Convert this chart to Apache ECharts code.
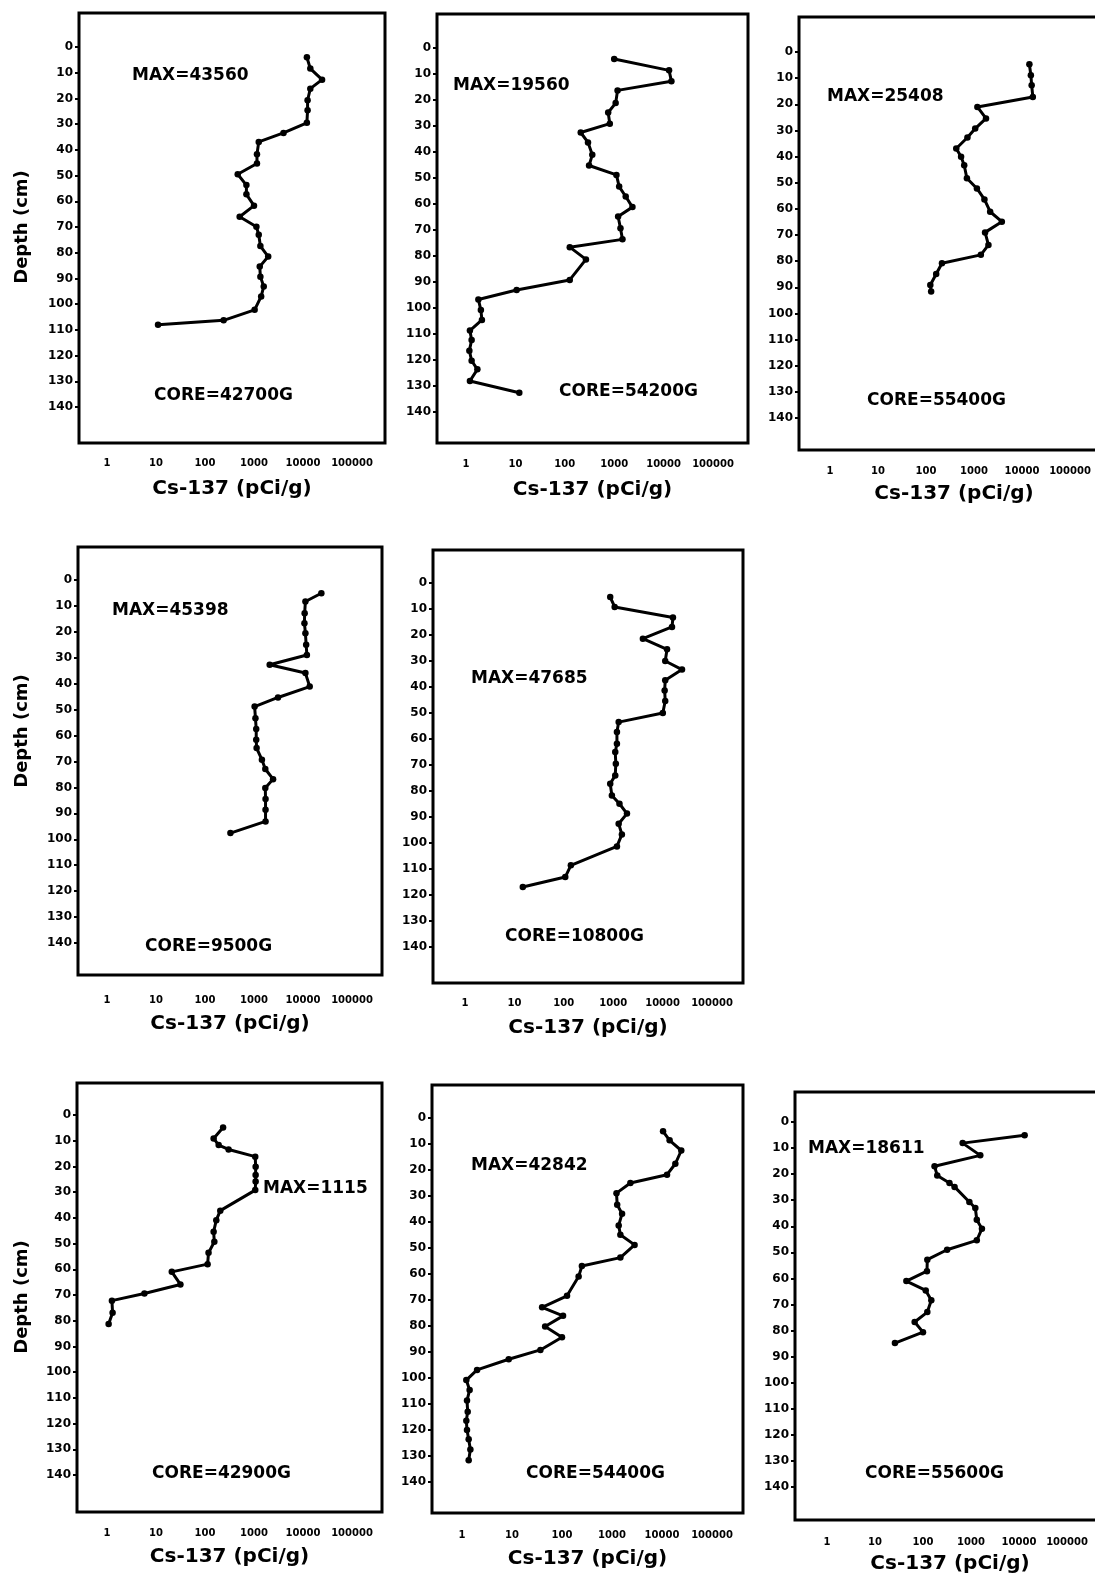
<!DOCTYPE html>
<html><head><meta charset="utf-8">
<script src="https://cdn.jsdelivr.net/npm/echarts@6/dist/echarts.min.js"></script>
<style>html,body{margin:0;padding:0;background:#fff}#c{width:1095px;height:1579px}</style>
</head><body><div id="c"></div>
<script>
// ---------- DATA ----------
const coreLabels = ['CORE=42700G','CORE=54200G','CORE=55400G','CORE=9500G','CORE=10800G','CORE=42900G','CORE=54400G','CORE=55600G'];
const maxLabels  = ['MAX=43560','MAX=19560','MAX=25408','MAX=45398','MAX=47685','MAX=1115','MAX=42842','MAX=18611'];
const xTickValues = [1, 10, 100, 1000, 10000, 100000];
const yTickValues = [0,10,20,30,40,50,60,70,80,90,100,110,120,130,140];
const xTitle = 'Cs-137 (pCi/g)';
const yTitle = 'Depth (cm)';

const depth42700 = [4,8.4,12.7,16.2,20.7,24.6,29.5,33.4,36.9,41.7,45.3,49.5,53.7,57.3,61.7,66,69.9,73,77.4,81.5,85.4,89.3,93.1,97,102.2,106.3,108];
const cs42700    = [12000,14100,24500,14100,12400,12400,12000,4000,1250,1150,1150,465,700,700,1000,510,1120,1250,1350,1950,1310,1350,1580,1400,1030,240,11];

const depth54200 = [4.2,8.6,12.8,16.3,21.2,24.8,29.1,32.5,36.3,41.1,45.2,48.8,53.3,57.1,61.2,64.8,69.3,73.6,76.6,81.3,89.2,93.1,96.7,100.8,104.6,108.7,112.3,116.4,120.3,123.6,128.1,132.6];
const cs54200    = [1000,12900,14400,1170,1070,755,815,210,295,360,310,1110,1260,1710,2340,1200,1340,1470,126,268,126,10.6,1.78,2.0,2.1,1.2,1.3,1.17,1.3,1.7,1.2,12];

const depth55400 = [4.7,8.9,12.7,17.2,21.0,25.4,29.3,32.7,36.9,40.1,43.3,48.3,52.2,56.4,61.1,64.9,69,73.8,77.6,80.8,84.9,89.1,91.6];
const cs55400    = [14250,15300,15900,16800,1175,1780,1060,730,427,538,625,711,1150,1650,2170,3800,1700,2000,1390,215,163,123,128];

const depth9500  = [5.1,8.3,12.8,16.7,20.5,25,28.9,32.7,35.9,41.1,45.3,48.8,53.3,57.5,61.6,64.8,69.3,72.9,76.8,80.2,84.5,88.6,93.1,97.6];
const cs9500     = [23700,11200,10800,10700,11200,11600,12000,2090,11200,13700,3090,1030,1070,1110,1110,1130,1450,1700,2450,1700,1720,1720,1720,330];

const depth10800 = [5.4,9.2,13.3,16.9,21.4,25.5,30,33.3,37.4,41.3,45.4,50,53.5,57.3,61.8,65,69.5,74,77.2,81.7,84.9,88.7,92.6,96.7,101.3,108.6,113.1,116.9];
const cs10800    = [870,1070,16200,15500,3990,12300,11300,24700,11300,11000,11300,10100,1290,1190,1190,1100,1130,1100,870,940,1340,1900,1290,1500,1190,139,107,14.8];

const depth42900 = [4.9,9.1,11.7,13.4,16.2,20.1,23.3,25.9,29.2,37.2,40.9,45.4,49.3,53.6,58,61,65.9,69.4,72.2,76.9,81.3];
const cs42900    = [234,150,190,303,1060,1080,1080,1080,1060,205,170,150,155,118,113,21,31.5,5.8,1.26,1.3,1.08];

const depth54400 = [5.1,8.6,12.5,17.6,21.8,25,28.9,33.4,36.8,41.3,44.9,48.8,53.7,56.9,61,68.4,72.8,76.1,80.2,84.3,89.2,92.8,96.9,100.8,104.6,108.7,113,116.4,120,123.6,127.5,131.6];
const cs54400    = [10500,14200,24300,18500,12600,2330,1230,1270,1590,1360,1470,2830,1470,250,215,126,40,105,46,100,37,8.6,2.0,1.22,1.42,1.26,1.3,1.22,1.26,1.36,1.47,1.36];

const depth55600 = [5.1,8.1,12.8,17,20.5,23.4,24.9,30.7,33,37.5,40.9,45.4,49,52.8,57.2,61,64.6,68.4,72.9,76.7,80.6,84.8];
const cs55600    = [13100,670,1560,174,198,356,455,925,1230,1320,1690,1320,318,123,121,45,114,149,123,67,100,26];

const depths = [depth42700, depth54200, depth55400, depth9500, depth10800, depth42900, depth54400, depth55600];
const values = [cs42700, cs54200, cs55400, cs9500, cs10800, cs42900, cs54400, cs55600];

// ---------- LAYOUT (pixels) ----------
const layout = [
  {L:79, T:13,  R:385,  B:443,  x1:107, x5:352,  y0:47,   y140:407,  lm:15, ng:36},
  {L:437,T:14,  R:748,  B:443,  x1:466, x5:713,  y0:48,   y140:412,  lm:16, ng:37},
  {L:799,T:17,  R:1109, B:450,  x1:830, x5:1070, y0:52,   y140:418,  lm:16, ng:34},
  {L:78, T:547, R:382,  B:975,  x1:107, x5:352,  y0:580,  y140:943,  lm:20, ng:39},
  {L:433,T:550, R:743,  B:983,  x1:465, x5:712,  y0:583,  y140:947,  lm:15, ng:35},
  {L:77, T:1083,R:382,  B:1512, x1:107, x5:352,  y0:1115, y140:1475, lm:16, ng:35},
  {L:432,T:1085,R:743,  B:1513, x1:462, x5:712,  y0:1118, y140:1482, lm:17, ng:36},
  {L:795,T:1092,R:1105, B:1520, x1:827, x5:1067, y0:1122, y140:1487, lm:17, ng:34}
];
const maxPos  = [[132,77],[453,87],[827,98],[112,612],[471,680],[263,1190],[471,1167],[808,1150]];
const corePos = [[154,397],[559,393],[867,402],[145,948],[505,938],[152,1475],[526,1475],[865,1475]];
const yTitlePos = [[22,227],[22,731],[22,1297]];

const FONT = 'DejaVu Sans';
const grids = [], xAxes = [], yAxes = [], series = [], graphics = [];

layout.forEach((b, i) => {
  const dec = (b.x5 - b.x1) / 5;
  const per = (b.y140 - b.y0) / 140;
  grids.push({left: b.L, top: b.T, right: 1095 - b.R, bottom: 1579 - b.B,
    outerBoundsMode: 'none', containLabel: false,
    show: true, borderColor: '#000', borderWidth: 3, backgroundColor: 'transparent'});
  xAxes.push({
    type: 'log', logBase: 10, gridIndex: i,
    min: Math.pow(10, (b.L - b.x1) / dec), max: Math.pow(10, (b.R - b.x1) / dec),
    axisLine: {show: false}, axisTick: {show: false}, splitLine: {show: false},
    axisLabel: {margin: b.lm, fontSize: 10, fontWeight: 'bold', color: '#000', fontFamily: FONT,
      showMinLabel: true, showMaxLabel: true, hideOverlap: false,
      formatter: v => {
        for (const t of xTickValues) { if (Math.abs(v - t) / t < 1e-6) return String(t); }
        return '';
      }},
    name: xTitle, nameLocation: 'middle', nameGap: b.ng,
    nameTextStyle: {fontSize: 20, fontWeight: 'bold', color: '#000', fontFamily: FONT}
  });
  yAxes.push({
    type: 'value', gridIndex: i, inverse: true,
    min: -(b.y0 - b.T) / per, max: 140 + (b.B - b.y140) / per,
    axisLine: {show: false}, splitLine: {show: false},
    axisTick: {show: true, length: 4, customValues: yTickValues, lineStyle: {color: '#000', width: 2}},
    axisLabel: {customValues: yTickValues, margin: 6, fontSize: 12, fontWeight: 'bold', color: '#000', fontFamily: FONT}
  });
  series.push({
    type: 'line', xAxisIndex: i, yAxisIndex: i,
    data: values[i].map((v, k) => [v, depths[i][k]]),
    symbol: 'circle', symbolSize: 6.5, showAllSymbol: true,
    lineStyle: {color: '#000', width: 3}, itemStyle: {color: '#000'},
    animation: false, silent: true
  });
  graphics.push({type: 'text', left: maxPos[i][0], top: maxPos[i][1] - 10,
    style: {text: maxLabels[i], font: 'bold 17px "' + FONT + '"', fill: '#000'}});
  graphics.push({type: 'text', left: corePos[i][0], top: corePos[i][1] - 10,
    style: {text: coreLabels[i], font: 'bold 17px "' + FONT + '"', fill: '#000'}});
});
yTitlePos.forEach(p => {
  graphics.push({type: 'text', x: p[0], y: p[1], rotation: Math.PI / 2,
    style: {text: yTitle, font: 'bold 18px "' + FONT + '"', fill: '#000', align: 'center', verticalAlign: 'middle'}});
});

const chart = echarts.init(document.getElementById('c'), null, {renderer: 'canvas'});
chart.setOption({
  animation: false,
  backgroundColor: '#fff',
  grid: grids, xAxis: xAxes, yAxis: yAxes, series: series,
  graphic: graphics
});
</script>
</body></html>
